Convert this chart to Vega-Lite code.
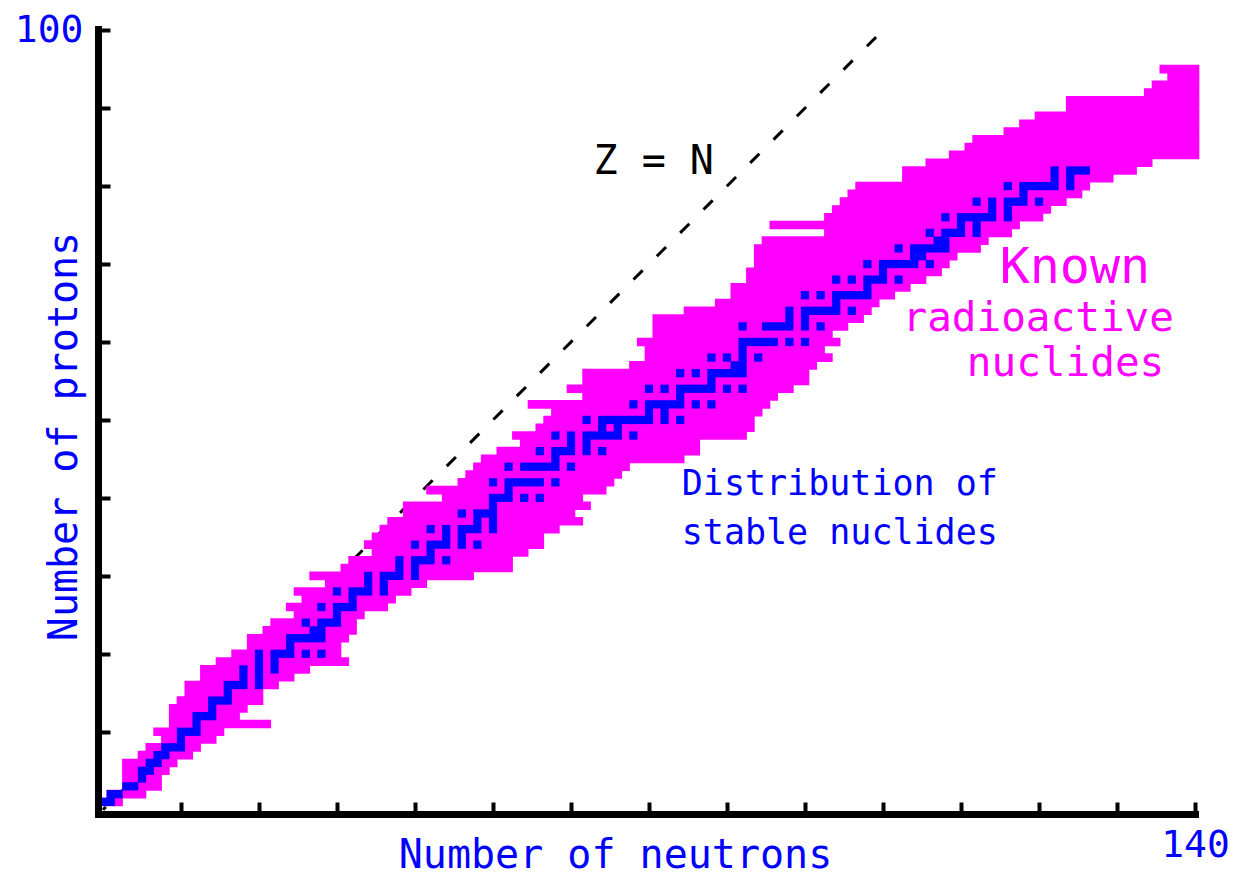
{
  "$schema": "https://vega.github.io/schema/vega-lite/v6.json",
  "width": 1097,
  "height": 785,
  "autosize": "none",
  "padding": {"left": 98, "top": 29, "right": 39, "bottom": 62},
  "background": "white",
  "config": {"view": {"stroke": null}, "font": "DejaVu Sans Mono"},
  "datasets": {
    "zline": [{"N": 0, "Z": 0}, {"N": 99.3, "Z": 99.3}],
    "band": [
      {"Z":1,"N":0,"N2":2},{"Z":2,"N":1,"N2":5},{"Z":3,"N":3,"N2":7},{"Z":4,"N":3,"N2":7},{"Z":5,"N":3,"N2":8},
      {"Z":6,"N":3,"N2":9},{"Z":7,"N":5,"N2":11},{"Z":8,"N":6,"N2":12},{"Z":9,"N":8,"N2":14},{"Z":10,"N":7,"N2":15},
      {"Z":11,"N":9,"N2":21},{"Z":12,"N":9,"N2":17},{"Z":13,"N":9,"N2":18},{"Z":14,"N":10,"N2":20},{"Z":15,"N":11,"N2":20},
      {"Z":16,"N":11,"N2":22},{"Z":17,"N":13,"N2":24},{"Z":18,"N":13,"N2":26},{"Z":19,"N":15,"N2":31},{"Z":20,"N":17,"N2":30},
      {"Z":21,"N":19,"N2":30},{"Z":22,"N":19,"N2":31},{"Z":23,"N":21,"N2":32},{"Z":24,"N":22,"N2":32},{"Z":25,"N":25,"N2":33},
      {"Z":26,"N":24,"N2":36},{"Z":27,"N":26,"N2":37},{"Z":28,"N":25,"N2":39},{"Z":29,"N":29,"N2":41},{"Z":30,"N":27,"N2":47},
      {"Z":31,"N":31,"N2":52},{"Z":32,"N":32,"N2":52},{"Z":33,"N":35,"N2":54},{"Z":34,"N":34,"N2":56},{"Z":35,"N":35,"N2":56},
      {"Z":36,"N":36,"N2":58},{"Z":37,"N":37,"N2":61},{"Z":38,"N":39,"N2":60},{"Z":39,"N":39,"N2":62},{"Z":40,"N":44,"N2":61},
      {"Z":41,"N":42,"N2":64},{"Z":42,"N":46,"N2":65},{"Z":43,"N":47,"N2":66},{"Z":44,"N":48,"N2":67},{"Z":45,"N":49,"N2":74},
      {"Z":46,"N":51,"N2":76},{"Z":47,"N":54,"N2":76},{"Z":48,"N":53,"N2":82},{"Z":49,"N":56,"N2":83},{"Z":50,"N":57,"N2":83},
      {"Z":51,"N":58,"N2":84},{"Z":52,"N":55,"N2":85},{"Z":53,"N":62,"N2":86},{"Z":54,"N":60,"N2":88},{"Z":55,"N":62,"N2":90},
      {"Z":56,"N":62,"N2":90},{"Z":57,"N":68,"N2":91},{"Z":58,"N":70,"N2":93},{"Z":59,"N":70,"N2":92},{"Z":60,"N":69,"N2":94},
      {"Z":61,"N":71,"N2":93},{"Z":62,"N":71,"N2":95},{"Z":63,"N":71,"N2":97},{"Z":64,"N":75,"N2":98},{"Z":65,"N":79,"N2":99},
      {"Z":66,"N":81,"N2":101},{"Z":67,"N":81,"N2":103},{"Z":68,"N":83,"N2":105},{"Z":69,"N":83,"N2":107},{"Z":70,"N":84,"N2":108},
      {"Z":71,"N":84,"N2":109},{"Z":72,"N":84,"N2":112},{"Z":73,"N":85,"N2":113},{"Z":74,"N":93,"N2":116},{"Z":75,"N":86,"N2":117},
      {"Z":76,"N":93,"N2":120},{"Z":77,"N":94,"N2":121},{"Z":78,"N":95,"N2":123},{"Z":79,"N":96,"N2":125},{"Z":80,"N":97,"N2":126},
      {"Z":81,"N":103,"N2":129},{"Z":82,"N":103,"N2":132},{"Z":83,"N":106,"N2":134},{"Z":84,"N":109,"N2":140},{"Z":85,"N":111,"N2":140},
      {"Z":86,"N":112,"N2":140},{"Z":87,"N":116,"N2":140},{"Z":88,"N":118,"N2":140},{"Z":89,"N":120,"N2":140},{"Z":90,"N":124,"N2":140},
      {"Z":91,"N":124,"N2":140},{"Z":92,"N":134,"N2":140},{"Z":93,"N":135,"N2":140},{"Z":94,"N":137,"N2":140},{"Z":95,"N":136,"N2":140}
    ],
    "stable": [
      {"Z":1,"N":0},{"Z":1,"N":1},{"Z":2,"N":1},{"Z":2,"N":2},{"Z":3,"N":3},{"Z":3,"N":4},{"Z":4,"N":5},{"Z":5,"N":5},{"Z":5,"N":6},
      {"Z":6,"N":6},{"Z":6,"N":7},{"Z":7,"N":7},{"Z":7,"N":8},{"Z":8,"N":8},{"Z":8,"N":9},{"Z":8,"N":10},{"Z":9,"N":10},
      {"Z":10,"N":10},{"Z":10,"N":11},{"Z":10,"N":12},{"Z":11,"N":12},{"Z":12,"N":12},{"Z":12,"N":13},{"Z":12,"N":14},{"Z":13,"N":14},
      {"Z":14,"N":14},{"Z":14,"N":15},{"Z":14,"N":16},{"Z":15,"N":16},{"Z":16,"N":16},{"Z":16,"N":17},{"Z":16,"N":18},{"Z":16,"N":20},
      {"Z":17,"N":18},{"Z":17,"N":20},{"Z":18,"N":18},{"Z":18,"N":20},{"Z":18,"N":22},{"Z":19,"N":20},{"Z":19,"N":22},
      {"Z":20,"N":20},{"Z":20,"N":22},{"Z":20,"N":23},{"Z":20,"N":24},{"Z":20,"N":26},{"Z":20,"N":28},{"Z":21,"N":24},
      {"Z":22,"N":24},{"Z":22,"N":25},{"Z":22,"N":26},{"Z":22,"N":27},{"Z":22,"N":28},{"Z":23,"N":27},{"Z":23,"N":28},
      {"Z":24,"N":26},{"Z":24,"N":28},{"Z":24,"N":29},{"Z":24,"N":30},{"Z":25,"N":30},{"Z":26,"N":28},{"Z":26,"N":30},{"Z":26,"N":31},{"Z":26,"N":32},
      {"Z":27,"N":32},{"Z":28,"N":30},{"Z":28,"N":32},{"Z":28,"N":33},{"Z":28,"N":34},{"Z":28,"N":36},{"Z":29,"N":34},{"Z":29,"N":36},
      {"Z":30,"N":34},{"Z":30,"N":36},{"Z":30,"N":37},{"Z":30,"N":38},{"Z":30,"N":40},{"Z":31,"N":38},{"Z":31,"N":40},
      {"Z":32,"N":38},{"Z":32,"N":40},{"Z":32,"N":41},{"Z":32,"N":42},{"Z":32,"N":44},{"Z":33,"N":42},
      {"Z":34,"N":40},{"Z":34,"N":42},{"Z":34,"N":43},{"Z":34,"N":44},{"Z":34,"N":46},{"Z":34,"N":48},{"Z":35,"N":44},{"Z":35,"N":46},
      {"Z":36,"N":42},{"Z":36,"N":44},{"Z":36,"N":46},{"Z":36,"N":47},{"Z":36,"N":48},{"Z":36,"N":50},{"Z":37,"N":48},{"Z":37,"N":50},
      {"Z":38,"N":46},{"Z":38,"N":48},{"Z":38,"N":49},{"Z":38,"N":50},{"Z":39,"N":50},
      {"Z":40,"N":50},{"Z":40,"N":51},{"Z":40,"N":52},{"Z":40,"N":54},{"Z":40,"N":56},{"Z":41,"N":52},
      {"Z":42,"N":50},{"Z":42,"N":52},{"Z":42,"N":53},{"Z":42,"N":54},{"Z":42,"N":55},{"Z":42,"N":56},{"Z":42,"N":58},
      {"Z":44,"N":52},{"Z":44,"N":54},{"Z":44,"N":55},{"Z":44,"N":56},{"Z":44,"N":57},{"Z":44,"N":58},{"Z":44,"N":60},{"Z":45,"N":58},
      {"Z":46,"N":56},{"Z":46,"N":58},{"Z":46,"N":59},{"Z":46,"N":60},{"Z":46,"N":62},{"Z":46,"N":64},{"Z":47,"N":60},{"Z":47,"N":62},
      {"Z":48,"N":58},{"Z":48,"N":60},{"Z":48,"N":62},{"Z":48,"N":63},{"Z":48,"N":64},{"Z":48,"N":65},{"Z":48,"N":66},{"Z":48,"N":68},
      {"Z":49,"N":64},{"Z":49,"N":66},
      {"Z":50,"N":62},{"Z":50,"N":64},{"Z":50,"N":65},{"Z":50,"N":66},{"Z":50,"N":67},{"Z":50,"N":68},{"Z":50,"N":69},{"Z":50,"N":70},{"Z":50,"N":72},{"Z":50,"N":74},
      {"Z":51,"N":70},{"Z":51,"N":72},
      {"Z":52,"N":68},{"Z":52,"N":70},{"Z":52,"N":71},{"Z":52,"N":72},{"Z":52,"N":73},{"Z":52,"N":74},{"Z":52,"N":76},{"Z":52,"N":78},{"Z":53,"N":74},
      {"Z":54,"N":70},{"Z":54,"N":72},{"Z":54,"N":74},{"Z":54,"N":75},{"Z":54,"N":76},{"Z":54,"N":77},{"Z":54,"N":78},{"Z":54,"N":80},{"Z":54,"N":82},
      {"Z":55,"N":78},
      {"Z":56,"N":74},{"Z":56,"N":76},{"Z":56,"N":78},{"Z":56,"N":79},{"Z":56,"N":80},{"Z":56,"N":81},{"Z":56,"N":82},
      {"Z":57,"N":81},{"Z":57,"N":82},{"Z":58,"N":78},{"Z":58,"N":80},{"Z":58,"N":82},{"Z":58,"N":84},{"Z":59,"N":82},
      {"Z":60,"N":82},{"Z":60,"N":83},{"Z":60,"N":84},{"Z":60,"N":85},{"Z":60,"N":86},{"Z":60,"N":88},{"Z":60,"N":90},
      {"Z":62,"N":82},{"Z":62,"N":85},{"Z":62,"N":86},{"Z":62,"N":87},{"Z":62,"N":88},{"Z":62,"N":90},{"Z":62,"N":92},
      {"Z":63,"N":88},{"Z":63,"N":90},
      {"Z":64,"N":88},{"Z":64,"N":90},{"Z":64,"N":91},{"Z":64,"N":92},{"Z":64,"N":93},{"Z":64,"N":94},{"Z":64,"N":96},{"Z":65,"N":94},
      {"Z":66,"N":90},{"Z":66,"N":92},{"Z":66,"N":94},{"Z":66,"N":95},{"Z":66,"N":96},{"Z":66,"N":97},{"Z":66,"N":98},{"Z":67,"N":98},
      {"Z":68,"N":94},{"Z":68,"N":96},{"Z":68,"N":98},{"Z":68,"N":99},{"Z":68,"N":100},{"Z":68,"N":102},{"Z":69,"N":100},
      {"Z":70,"N":98},{"Z":70,"N":100},{"Z":70,"N":101},{"Z":70,"N":102},{"Z":70,"N":103},{"Z":70,"N":104},{"Z":70,"N":106},
      {"Z":71,"N":104},{"Z":71,"N":105},
      {"Z":72,"N":102},{"Z":72,"N":104},{"Z":72,"N":105},{"Z":72,"N":106},{"Z":72,"N":107},{"Z":72,"N":108},
      {"Z":73,"N":107},{"Z":73,"N":108},
      {"Z":74,"N":106},{"Z":74,"N":108},{"Z":74,"N":109},{"Z":74,"N":110},{"Z":74,"N":112},{"Z":75,"N":110},{"Z":75,"N":112},
      {"Z":76,"N":108},{"Z":76,"N":110},{"Z":76,"N":111},{"Z":76,"N":112},{"Z":76,"N":113},{"Z":76,"N":114},{"Z":76,"N":116},
      {"Z":77,"N":114},{"Z":77,"N":116},
      {"Z":78,"N":112},{"Z":78,"N":114},{"Z":78,"N":116},{"Z":78,"N":117},{"Z":78,"N":118},{"Z":78,"N":120},{"Z":79,"N":118},
      {"Z":80,"N":116},{"Z":80,"N":118},{"Z":80,"N":119},{"Z":80,"N":120},{"Z":80,"N":121},{"Z":80,"N":122},{"Z":80,"N":124},
      {"Z":81,"N":122},{"Z":81,"N":124},
      {"Z":82,"N":122},{"Z":82,"N":124},{"Z":82,"N":125},{"Z":82,"N":126}
    ],
    "zlabel": [{"t": "Z = N", "N": 70.6, "Z": 81.6}],
    "known": [{"t": "Known", "N": 124.6, "Z": 67.6}],
    "radio": [{"t": "radioactive", "N": 119.9, "Z": 61.4}, {"t": "nuclides", "N": 123.4, "Z": 55.6}],
    "stabletext": [{"t": "Distribution of", "N": 74.2, "Z": 40.4}, {"t": "stable nuclides", "N": 74.2, "Z": 34.1}]
  },
  "encoding": {
    "x": {
      "field": "N", "type": "quantitative",
      "scale": {"domain": [-0.64, 140], "nice": false, "zero": false},
      "axis": {
        "values": [10, 20, 30, 40, 50, 60, 70, 80, 90, 100, 110, 120, 130, 140],
        "labelExpr": "datum.value == 140 ? '140' : ''",
        "title": "Number of neutrons",
        "grid": false, "zindex": 1,
        "domainColor": "black", "domainWidth": 7, "domainCap": "square",
        "tickColor": "black", "tickWidth": 4, "tickSize": -12,
        "labelColor": "#0000ff", "labelFont": "DejaVu Sans Mono", "labelFontSize": 38,
        "labelPadding": 24, "labelFlush": false, "labelOverlap": false, "labelBound": false,
        "titleColor": "#0000ff", "titleFont": "DejaVu Sans Mono", "titleFontSize": 40, "titleFontWeight": "normal",
        "titleX": 517, "titleY": 53, "titleAlign": "center", "titleBaseline": "alphabetic"
      }
    },
    "y": {
      "field": "Z", "type": "quantitative",
      "scale": {"domain": [-0.55, 100.15], "nice": false, "zero": false},
      "axis": {
        "values": [10, 20, 30, 40, 50, 60, 70, 80, 90, 100],
        "labelExpr": "datum.value == 100 ? '100' : ''",
        "title": "Number of protons",
        "grid": false, "zindex": 1,
        "domainColor": "black", "domainWidth": 7, "domainCap": "square",
        "tickColor": "black", "tickWidth": 4, "tickSize": -12,
        "labelColor": "#0000ff", "labelFont": "DejaVu Sans Mono", "labelFontSize": 38,
        "labelPadding": 27, "labelFlush": false, "labelOverlap": false, "labelBound": false,
        "titleColor": "#0000ff", "titleFont": "DejaVu Sans Mono", "titleFontSize": 40, "titleFontWeight": "normal",
        "titleX": -22, "titleY": 407, "titleAngle": 270, "titleAlign": "center", "titleBaseline": "alphabetic"
      }
    }
  },
  "layer": [
    {
      "data": {"name": "zline"},
      "mark": {"type": "line", "color": "black", "strokeWidth": 3, "strokeDash": [13, 20], "strokeDashOffset": 9},
      "encoding": {}
    },
    {
      "data": {"name": "band"},
      "mark": {"type": "rule", "color": "#ff00ff", "strokeWidth": 8.6, "strokeCap": "square"},
      "encoding": {"x2": {"field": "N2"}}
    },
    {
      "data": {"name": "stable"},
      "mark": {"type": "square", "color": "#0000ff", "filled": true, "opacity": 1, "size": 68},
      "encoding": {}
    },
    {
      "data": {"name": "zlabel"},
      "mark": {"type": "text", "color": "black", "font": "DejaVu Sans Mono", "fontSize": 40, "align": "center", "baseline": "alphabetic"},
      "encoding": {"text": {"field": "t"}}
    },
    {
      "data": {"name": "known"},
      "mark": {"type": "text", "color": "#ff00ff", "font": "DejaVu Sans Mono", "fontSize": 50, "align": "center", "baseline": "alphabetic"},
      "encoding": {"text": {"field": "t"}}
    },
    {
      "data": {"name": "radio"},
      "mark": {"type": "text", "color": "#ff00ff", "font": "DejaVu Sans Mono", "fontSize": 41, "align": "center", "baseline": "alphabetic"},
      "encoding": {"text": {"field": "t"}}
    },
    {
      "data": {"name": "stabletext"},
      "mark": {"type": "text", "color": "#0000ff", "font": "DejaVu Sans Mono", "fontSize": 35, "align": "left", "baseline": "alphabetic"},
      "encoding": {"text": {"field": "t"}}
    }
  ]
}
